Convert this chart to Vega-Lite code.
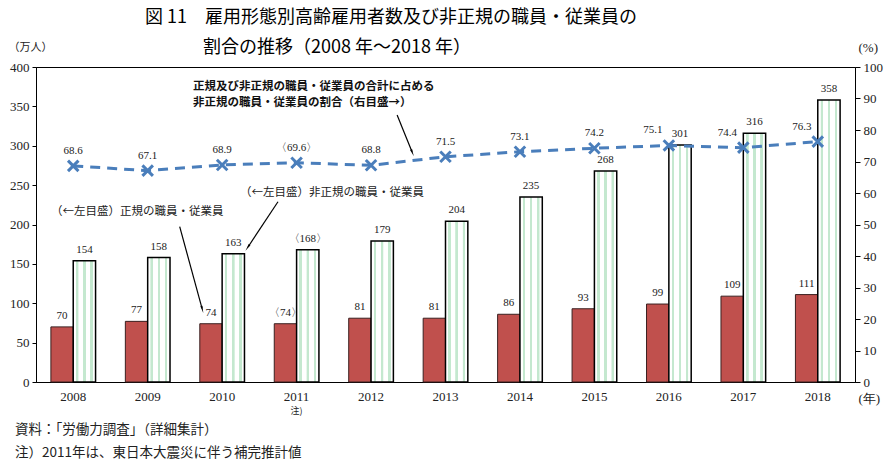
{
  "$schema": "https://vega.github.io/schema/vega-lite/v6.json",
  "width": 819,
  "height": 315,
  "autosize": "none",
  "padding": {"left": 36, "top": 67, "right": 35, "bottom": 86},
  "background": "white",
  "config": {"view": {"stroke": "#000", "strokeWidth": 1}, "font": "Liberation Serif"},
  "title": {
    "text": ["図 11　雇用形態別高齢雇用者数及び非正規の職員・従業員の", "\u200b　　　 割合の推移（2008 年～2018 年）"],
    "anchor": "start",
    "frame": "group",
    "dx": 109,
    "offset": -16,
    "font": "Noto Sans CJK JP",
    "fontSize": 18,
    "fontWeight": "normal",
    "lineHeight": 30,
    "color": "#000"
  },
  "datasets": {
    "bars": [
      {"year": 2008, "type": "正規", "value": 70, "label": "70"},
      {"year": 2008, "type": "非正規", "value": 154, "label": "154"},
      {"year": 2009, "type": "正規", "value": 77, "label": "77"},
      {"year": 2009, "type": "非正規", "value": 158, "label": "158"},
      {"year": 2010, "type": "正規", "value": 74, "label": "74"},
      {"year": 2010, "type": "非正規", "value": 163, "label": "163"},
      {"year": 2011, "type": "正規", "value": 74, "label": "〈74〉"},
      {"year": 2011, "type": "非正規", "value": 168, "label": "〈168〉"},
      {"year": 2012, "type": "正規", "value": 81, "label": "81"},
      {"year": 2012, "type": "非正規", "value": 179, "label": "179"},
      {"year": 2013, "type": "正規", "value": 81, "label": "81"},
      {"year": 2013, "type": "非正規", "value": 204, "label": "204"},
      {"year": 2014, "type": "正規", "value": 86, "label": "86"},
      {"year": 2014, "type": "非正規", "value": 235, "label": "235"},
      {"year": 2015, "type": "正規", "value": 93, "label": "93"},
      {"year": 2015, "type": "非正規", "value": 268, "label": "268"},
      {"year": 2016, "type": "正規", "value": 99, "label": "99"},
      {"year": 2016, "type": "非正規", "value": 301, "label": "301"},
      {"year": 2017, "type": "正規", "value": 109, "label": "109"},
      {"year": 2017, "type": "非正規", "value": 316, "label": "316"},
      {"year": 2018, "type": "正規", "value": 111, "label": "111"},
      {"year": 2018, "type": "非正規", "value": 358, "label": "358"}
    ],
    "ratio": [
      {"year": 2008, "ratio": 68.6, "label": "68.6"},
      {"year": 2009, "ratio": 67.1, "label": "67.1"},
      {"year": 2010, "ratio": 68.9, "label": "68.9"},
      {"year": 2011, "ratio": 69.6, "label": "〈69.6〉"},
      {"year": 2012, "ratio": 68.8, "label": "68.8"},
      {"year": 2013, "ratio": 71.5, "label": "71.5"},
      {"year": 2014, "ratio": 73.1, "label": "73.1"},
      {"year": 2015, "ratio": 74.2, "label": "74.2"},
      {"year": 2016, "ratio": 75.1, "label": "75.1"},
      {"year": 2017, "ratio": 74.4, "label": "74.4"},
      {"year": 2018, "ratio": 76.3, "label": "76.3"}
    ],
    "arrows": [
      {"id": "a1", "x": 2012.35, "y": 339.0, "x2": 2012.55, "y2": 292.4},
      {"id": "a2", "x": 2009.43, "y": 197.2, "x2": 2009.73, "y2": 93.6},
      {"id": "a3", "x": 2010.75, "y": 228.9, "x2": 2010.35, "y2": 171.8}
    ],
    "notes": [
      {"kind": "ratio", "x": 2009.61, "y": 375.0, "text": "正規及び非正規の職員・従業員の合計に占める"},
      {"kind": "ratio", "x": 2009.61, "y": 353.9, "text": "非正規の職員・従業員の割合（右目盛→）"},
      {"kind": "series", "x": 2010.24, "y": 240.4, "text": "（←左目盛）非正規の職員・従業員"},
      {"kind": "series", "x": 2007.70, "y": 216.2, "text": "（←左目盛）正規の職員・従業員"},
      {"kind": "foot", "x": 2007.218, "y": -61.0, "text": "資料：「労働力調査」（詳細集計）"},
      {"kind": "foot", "x": 2007.218, "y": -89.8, "text": "注）2011年は、東日本大震災に伴う補完推計値"},
      {"kind": "small", "x": 2011.0, "y": -36.8, "text": "注)"}
    ]
  },
  "resolve": {"scale": {"x": "independent", "y": "independent"}},
  "layer": [
    {
      "data": {"name": "bars"},
      "transform": [{"filter": "datum.type === '正規'"}],
      "mark": {"type": "bar", "fill": "#c0504d", "stroke": "#3a2020", "strokeWidth": 1},
      "encoding": {
        "x": {"field": "year", "type": "ordinal", "scale": {"type": "band", "domain": [2008, 2009, 2010, 2011, 2012, 2013, 2014, 2015, 2016, 2017, 2018], "paddingInner": 0.4, "paddingOuter": 0.2},
          "axis": {"title": "(年)", "titleAngle": 0, "titleAlign": "left", "titleBaseline": "middle", "titleX": 822, "titleY": 16, "titleFont": "Liberation Serif", "titleFontSize": 13, "titleFontWeight": "normal", "titleColor": "#222",
            "labelAngle": 0, "labelFont": "Liberation Serif", "labelFontSize": 13, "labelColor": "#222", "labelPadding": 8, "ticks": false, "domainColor": "#000", "grid": false}},
        "xOffset": {"field": "type", "type": "nominal", "scale": {"domain": ["正規", "非正規"]}},
        "y": {"field": "value", "type": "quantitative", "scale": {"domain": [0, 400], "nice": false},
          "axis": {"orient": "left", "values": [0, 50, 100, 150, 200, 250, 300, 350, 400], "grid": false, "tickSize": 4, "tickColor": "#000", "domainColor": "#000", "labelFont": "Liberation Serif", "labelFontSize": 13, "labelColor": "#222", "labelPadding": 3,
            "title": "（万人）", "titleAngle": 0, "titleAlign": "left", "titleBaseline": "middle", "titleX": -28, "titleY": -20, "titleFont": "Noto Sans CJK JP", "titleFontSize": 11, "titleFontWeight": "normal", "titleColor": "#222"}}
      }
    },
    {
      "data": {"name": "bars"},
      "transform": [{"filter": "datum.type === '非正規'"}],
      "mark": {"type": "bar", "stroke": "#000", "strokeWidth": 1.5,
        "fill": {"gradient": "linear", "x1": 0, "x2": 1, "y1": 0, "y2": 0, "stops": [
          {"offset": 0, "color": "#ffffff"}, {"offset": 0.12, "color": "#ffffff"}, {"offset": 0.13, "color": "#c4e8cf"}, {"offset": 0.23, "color": "#c4e8cf"}, {"offset": 0.24, "color": "#ffffff"},
          {"offset": 0.44, "color": "#ffffff"}, {"offset": 0.45, "color": "#c4e8cf"}, {"offset": 0.55, "color": "#c4e8cf"}, {"offset": 0.56, "color": "#ffffff"},
          {"offset": 0.76, "color": "#ffffff"}, {"offset": 0.77, "color": "#c4e8cf"}, {"offset": 0.87, "color": "#c4e8cf"}, {"offset": 0.88, "color": "#ffffff"}, {"offset": 1, "color": "#ffffff"}]}},
      "encoding": {
        "x": {"field": "year", "type": "ordinal", "scale": {"type": "band", "domain": [2008, 2009, 2010, 2011, 2012, 2013, 2014, 2015, 2016, 2017, 2018], "paddingInner": 0.4, "paddingOuter": 0.2}, "axis": null},
        "xOffset": {"field": "type", "type": "nominal", "scale": {"domain": ["正規", "非正規"]}},
        "y": {"field": "value", "type": "quantitative", "scale": {"domain": [0, 400], "nice": false}, "axis": null}
      }
    },
    {
      "data": {"name": "bars"},
      "mark": {"type": "text", "baseline": "bottom", "dy": -6, "font": "Liberation Serif", "fontSize": 11, "color": "#222"},
      "encoding": {
        "x": {"field": "year", "type": "ordinal", "scale": {"type": "band", "domain": [2008, 2009, 2010, 2011, 2012, 2013, 2014, 2015, 2016, 2017, 2018], "paddingInner": 0.4, "paddingOuter": 0.2}, "axis": null},
        "xOffset": {"field": "type", "type": "nominal", "scale": {"domain": ["正規", "非正規"]}},
        "y": {"field": "value", "type": "quantitative", "scale": {"domain": [0, 400], "nice": false}, "axis": null},
        "text": {"field": "label"}
      }
    },
    {
      "data": {"name": "ratio"},
      "mark": {"type": "line", "color": "#4a7ebb", "strokeWidth": 3, "strokeDash": [10, 7]},
      "encoding": {
        "x": {"field": "year", "type": "ordinal", "scale": {"domain": [2008, 2009, 2010, 2011, 2012, 2013, 2014, 2015, 2016, 2017, 2018]}, "axis": null},
        "y": {"field": "ratio", "type": "quantitative", "scale": {"domain": [0, 100], "nice": false},
          "axis": {"orient": "right", "values": [0, 10, 20, 30, 40, 50, 60, 70, 80, 90, 100], "grid": false, "tickSize": 5, "tickColor": "#000", "domainColor": "#000", "labelFont": "Liberation Serif", "labelFontSize": 13, "labelColor": "#222", "labelPadding": 3,
            "title": "(%)", "titleAngle": 0, "titleAlign": "left", "titleBaseline": "middle", "titleX": 3, "titleY": -20, "titleFont": "Liberation Serif", "titleFontSize": 13, "titleFontWeight": "normal", "titleColor": "#222"}}
      }
    },
    {
      "data": {"name": "ratio"},
      "mark": {"type": "point", "shape": "M-1,-1L1,1M1,-1L-1,1", "size": 110, "filled": false, "stroke": "#4a7ebb", "strokeWidth": 3, "opacity": 1},
      "encoding": {
        "x": {"field": "year", "type": "ordinal", "scale": {"domain": [2008, 2009, 2010, 2011, 2012, 2013, 2014, 2015, 2016, 2017, 2018]}, "axis": null},
        "y": {"field": "ratio", "type": "quantitative", "scale": {"domain": [0, 100], "nice": false}, "axis": null}
      }
    },
    {
      "data": {"name": "ratio"},
      "transform": [{"filter": "datum.year < 2016"}],
      "mark": {"type": "text", "baseline": "bottom", "dy": -10, "font": "Liberation Serif", "fontSize": 11, "color": "#222"},
      "encoding": {
        "x": {"field": "year", "type": "ordinal", "scale": {"domain": [2008, 2009, 2010, 2011, 2012, 2013, 2014, 2015, 2016, 2017, 2018]}, "axis": null},
        "y": {"field": "ratio", "type": "quantitative", "scale": {"domain": [0, 100], "nice": false}, "axis": null},
        "text": {"field": "label"}
      }
    },
    {
      "data": {"name": "ratio"},
      "transform": [{"filter": "datum.year >= 2016"}],
      "mark": {"type": "text", "baseline": "bottom", "dy": -10, "dx": -16, "font": "Liberation Serif", "fontSize": 11, "color": "#222"},
      "encoding": {
        "x": {"field": "year", "type": "ordinal", "scale": {"domain": [2008, 2009, 2010, 2011, 2012, 2013, 2014, 2015, 2016, 2017, 2018]}, "axis": null},
        "y": {"field": "ratio", "type": "quantitative", "scale": {"domain": [0, 100], "nice": false}, "axis": null},
        "text": {"field": "label"}
      }
    },
    {
      "data": {"name": "arrows"},
      "mark": {"type": "rule", "color": "#000", "strokeWidth": 1.2},
      "encoding": {
        "x": {"field": "x", "type": "quantitative", "scale": {"domain": [2007.5, 2018.5], "nice": false, "zero": false}, "axis": null},
        "x2": {"field": "x2"},
        "y": {"field": "y", "type": "quantitative", "scale": {"domain": [0, 400], "nice": false}, "axis": null},
        "y2": {"field": "y2"}
      }
    },
    {
      "data": {"name": "arrows"},
      "transform": [{"filter": "datum.id === 'a1'"}],
      "mark": {"type": "point", "shape": "wedge", "size": 70, "filled": true, "color": "#000", "opacity": 1, "angle": 158},
      "encoding": {
        "x": {"field": "x2", "type": "quantitative", "scale": {"domain": [2007.5, 2018.5], "nice": false, "zero": false}, "axis": null},
        "y": {"field": "y2", "type": "quantitative", "scale": {"domain": [0, 400], "nice": false}, "axis": null}
      }
    },
    {
      "data": {"name": "arrows"},
      "transform": [{"filter": "datum.id === 'a2'"}],
      "mark": {"type": "point", "shape": "wedge", "size": 70, "filled": true, "color": "#000", "opacity": 1, "angle": 165},
      "encoding": {
        "x": {"field": "x2", "type": "quantitative", "scale": {"domain": [2007.5, 2018.5], "nice": false, "zero": false}, "axis": null},
        "y": {"field": "y2", "type": "quantitative", "scale": {"domain": [0, 400], "nice": false}, "axis": null}
      }
    },
    {
      "data": {"name": "arrows"},
      "transform": [{"filter": "datum.id === 'a3'"}],
      "mark": {"type": "point", "shape": "wedge", "size": 70, "filled": true, "color": "#000", "opacity": 1, "angle": 214},
      "encoding": {
        "x": {"field": "x2", "type": "quantitative", "scale": {"domain": [2007.5, 2018.5], "nice": false, "zero": false}, "axis": null},
        "y": {"field": "y2", "type": "quantitative", "scale": {"domain": [0, 400], "nice": false}, "axis": null}
      }
    },
    {
      "data": {"name": "notes"},
      "transform": [{"filter": "datum.kind === 'ratio'"}],
      "mark": {"type": "text", "align": "left", "baseline": "middle", "font": "Noto Sans CJK JP", "fontSize": 11.5, "fontWeight": "bold", "color": "#111"},
      "encoding": {
        "x": {"field": "x", "type": "quantitative", "scale": {"domain": [2007.5, 2018.5], "nice": false, "zero": false}, "axis": null},
        "y": {"field": "y", "type": "quantitative", "scale": {"domain": [0, 400], "nice": false}, "axis": null},
        "text": {"field": "text"}
      }
    },
    {
      "data": {"name": "notes"},
      "transform": [{"filter": "datum.kind === 'series'"}],
      "mark": {"type": "text", "align": "left", "baseline": "middle", "font": "Noto Sans CJK JP", "fontSize": 11.5, "color": "#222"},
      "encoding": {
        "x": {"field": "x", "type": "quantitative", "scale": {"domain": [2007.5, 2018.5], "nice": false, "zero": false}, "axis": null},
        "y": {"field": "y", "type": "quantitative", "scale": {"domain": [0, 400], "nice": false}, "axis": null},
        "text": {"field": "text"}
      }
    },
    {
      "data": {"name": "notes"},
      "transform": [{"filter": "datum.kind === 'foot'"}],
      "mark": {"type": "text", "align": "left", "baseline": "middle", "font": "Noto Sans CJK JP", "fontSize": 13.5, "color": "#222"},
      "encoding": {
        "x": {"field": "x", "type": "quantitative", "scale": {"domain": [2007.5, 2018.5], "nice": false, "zero": false}, "axis": null},
        "y": {"field": "y", "type": "quantitative", "scale": {"domain": [0, 400], "nice": false}, "axis": null},
        "text": {"field": "text"}
      }
    },
    {
      "data": {"name": "notes"},
      "transform": [{"filter": "datum.kind === 'small'"}],
      "mark": {"type": "text", "align": "center", "baseline": "middle", "font": "Noto Sans CJK JP", "fontSize": 9, "color": "#222"},
      "encoding": {
        "x": {"field": "x", "type": "quantitative", "scale": {"domain": [2007.5, 2018.5], "nice": false, "zero": false}, "axis": null},
        "y": {"field": "y", "type": "quantitative", "scale": {"domain": [0, 400], "nice": false}, "axis": null},
        "text": {"field": "text"}
      }
    }
  ]
}
